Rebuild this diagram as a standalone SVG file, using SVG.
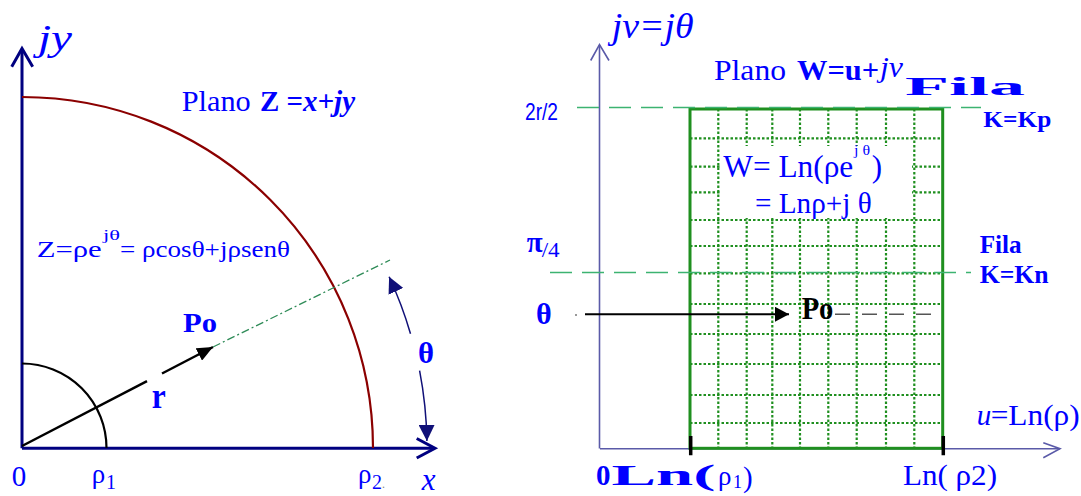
<svg xmlns="http://www.w3.org/2000/svg" width="1081" height="496" viewBox="0 0 1081 496">
<defs>
<style>
text { font-family: "Liberation Serif", "Times New Roman", serif; fill: #0000ff; }
.b { font-weight: bold; }
.i { font-style: italic; }
.sans { font-family: "Liberation Sans", Arial, sans-serif; }
.grid { stroke: #1f8f1f; stroke-width: 2.2; stroke-dasharray: 2.5 2; fill: none; }
.gdash { stroke: #3cb371; stroke-width: 1.5; stroke-dasharray: 22 10; fill: none; }
.navy { stroke: #000080; stroke-width: 3; fill: none; stroke-linejoin: miter; }
.slate { stroke: #5a5aa8; stroke-width: 1.6; fill: none; }
.thin { stroke: #101078; stroke-width: 1.5; fill: none; }
</style>
<marker id="ahBlack" viewBox="0 0 16 14" refX="16" refY="7" markerWidth="16" markerHeight="14" markerUnits="userSpaceOnUse" orient="auto"><path d="M0,0 L16,7 L0,14 z" fill="#000"/></marker>
<marker id="ahNavy" viewBox="0 0 16 16" refX="16" refY="8" markerWidth="16" markerHeight="16" markerUnits="userSpaceOnUse" orient="auto"><path d="M0,0 L16,8 L0,16 z" fill="#101078"/></marker>
<marker id="ahRight" viewBox="0 0 14 15" refX="14" refY="7.5" markerWidth="14" markerHeight="15" markerUnits="userSpaceOnUse" orient="auto"><path d="M0,0 L14,7.5 L0,15 z" fill="#000"/></marker>
</defs>
<rect x="0" y="0" width="1081" height="496" fill="#ffffff"/>

<!-- LEFT PANEL: Z plane -->
<g id="z-axes">
<path class="navy" d="M22,448.3 V49"/>
<path class="navy" d="M11.7,66.7 L22,48.5 L32.7,66.7"/>
<path class="navy" d="M22,448.3 H434"/>
<path class="navy" d="M416.7,438.5 L435,448.3 L416.7,458"/>
</g>
<g id="z-arcs">
<path d="M22,97 A351,351 0 0 1 373,448" fill="none" stroke="#8b0000" stroke-width="2.2"/>
<path d="M22,363.5 A84.5,84.5 0 0 1 106.5,448" fill="none" stroke="#000" stroke-width="2.2"/>
</g>
<g id="z-connectors">
<path d="M22,446 L147,381.2" stroke="#000" stroke-width="2.5" fill="none"/>
<path d="M162,373.5 L213,347" stroke="#000" stroke-width="2.5" fill="none" marker-end="url(#ahBlack)"/>
<path d="M213,347 L390,260" stroke="#2e8b57" stroke-width="1.3" stroke-dasharray="8 3 2 3" fill="none"/>
<path class="thin" d="M410.5,333.7 A405,405 0 0 0 389.1,276.8" marker-end="url(#ahNavy)"/>
<path class="thin" d="M419.6,370.7 A405,405 0 0 1 426.9,440.9" marker-end="url(#ahNavy)"/>
</g>
<g id="z-labels">
<text class="i" x="38" y="50" font-size="35" textLength="34" lengthAdjust="spacingAndGlyphs">jy</text>
<text x="181.7" y="110.7" font-size="30" textLength="69" lengthAdjust="spacingAndGlyphs">Plano</text>
<text class="b" x="260" y="110.7" font-size="30" textLength="95" lengthAdjust="spacingAndGlyphs">Z =<tspan class="i">x+jy</tspan></text>
<text x="36.7" y="256.7" font-size="24" textLength="65" lengthAdjust="spacingAndGlyphs">Z=ρe</text>
<text x="103" y="240" font-size="15" textLength="17" lengthAdjust="spacingAndGlyphs">jθ</text>
<text x="120" y="256.7" font-size="24" textLength="170" lengthAdjust="spacingAndGlyphs">= ρcosθ+jρsenθ</text>
<text class="b" x="183" y="331.7" font-size="27" textLength="34" lengthAdjust="spacingAndGlyphs">Po</text>
<text class="b" x="151.7" y="408.3" font-size="36" textLength="14" lengthAdjust="spacingAndGlyphs">r</text>
<text class="b" x="418" y="363" font-size="30" textLength="16" lengthAdjust="spacingAndGlyphs">θ</text>
<text x="11.7" y="486" font-size="29">0</text>
<text x="91.7" y="482.7" font-size="27">ρ</text>
<text x="106" y="489" font-size="20">1</text>
<text x="358" y="482.7" font-size="27">ρ</text>
<text x="372" y="489" font-size="20">2</text>
<text x="382" y="488" font-size="12" style="fill:#888">.</text>
<text class="i" x="421.7" y="490" font-size="31">x</text>
</g>

<!-- RIGHT PANEL: W plane -->
<g id="w-axes">
<path class="slate" d="M599.5,448.5 V45"/>
<path class="slate" d="M590.7,60.5 L599.5,44.5 L609,60.5"/>
<path class="slate" d="M600,448.7 H1060"/>
<path class="slate" d="M1043.3,442.7 L1060,448.7 L1043.3,457.7"/>
</g>
<g id="w-grid">
<path class="grid" d="M718.3,109 V448 M746.7,109 V448 M772.3,109 V448 M800,109 V448 M828.3,109 V448 M856.7,109 V448 M886,109 V448 M914.3,109 V448"/>
<path class="grid" d="M690,138.3 H942 M690,166.7 H942 M690,192.3 H942 M690,220 H942 M690,246 H942 M690,273.3 H942 M690,304 H942 M690,334 H942 M690,364 H942 M690,395 H942 M690,423 H942"/>
<rect x="720" y="146" width="192" height="72" fill="#ffffff"/>
<rect x="690" y="109" width="252.7" height="339.3" fill="none" stroke="#1f8f1f" stroke-width="3"/>
</g>
<g id="w-connectors">
<path class="gdash" d="M577,107.5 H981"/>
<path class="gdash" d="M550,272.5 H971"/>
<path d="M690.7,436 V455.3 M943.3,436 V455.3" stroke="#000" stroke-width="3.5" fill="none"/>
<circle cx="576" cy="315" r="1" fill="#777"/>
<path d="M585,314.3 H789" stroke="#000" stroke-width="2" fill="none" marker-end="url(#ahRight)"/>
<path d="M835,314.3 H943" stroke="#555" stroke-width="1.5" stroke-dasharray="15 12" fill="none"/>
</g>
<g id="w-labels">
<text class="i" x="611.7" y="38" font-size="35" textLength="82" lengthAdjust="spacingAndGlyphs">jv=jθ</text>
<text x="714" y="80" font-size="29" textLength="72" lengthAdjust="spacingAndGlyphs">Plano</text>
<text class="b" x="797" y="80" font-size="29" textLength="82" lengthAdjust="spacingAndGlyphs">W=u+</text>
<text class="i" x="880" y="77" font-size="29" textLength="23" lengthAdjust="spacingAndGlyphs">jv</text>
<text class="b" x="905" y="95" font-size="26" textLength="120" lengthAdjust="spacingAndGlyphs">Fila</text>
<text class="sans" x="525" y="120" font-size="24" textLength="33" lengthAdjust="spacingAndGlyphs">2r/2</text>
<text class="b" x="983.3" y="126.7" font-size="24" textLength="68" lengthAdjust="spacingAndGlyphs">K=Kp</text>
<text x="723.3" y="177.3" font-size="31" textLength="130" lengthAdjust="spacingAndGlyphs">W= Ln(ρe</text>
<text x="854" y="155" font-size="15" textLength="16" lengthAdjust="spacingAndGlyphs">j θ</text>
<text x="871.7" y="177.3" font-size="31">)</text>
<text x="755" y="212.7" font-size="30" textLength="116.7" lengthAdjust="spacingAndGlyphs">= Lnρ+j θ</text>
<text class="b" x="526.7" y="251.7" font-size="29">π</text>
<text x="541.7" y="256.7" font-size="20" textLength="18" lengthAdjust="spacingAndGlyphs">/4</text>
<text class="b" x="979.7" y="252.5" font-size="25" textLength="42" lengthAdjust="spacingAndGlyphs">Fila</text>
<text class="b" x="979.7" y="283.3" font-size="25" textLength="69" lengthAdjust="spacingAndGlyphs">K=Kn</text>
<text class="b" x="536" y="324" font-size="29" textLength="15.7" lengthAdjust="spacingAndGlyphs">θ</text>
<text class="b" x="801.7" y="319.3" font-size="31" textLength="31.7" lengthAdjust="spacingAndGlyphs" style="fill:#000">Po</text>
<text class="i" x="976.7" y="425.3" font-size="29">u</text>
<text x="990.7" y="425.3" font-size="29" textLength="89" lengthAdjust="spacingAndGlyphs">=Ln(ρ)</text>
<text class="b" x="596" y="485.3" font-size="29">0</text>
<text class="b" x="611.5" y="485.3" font-size="29" textLength="104" lengthAdjust="spacingAndGlyphs">Ln(</text>
<text x="718" y="485.3" font-size="27">ρ</text>
<text x="733" y="487.7" font-size="18">1</text>
<text x="743" y="487" font-size="29">)</text>
<text x="903" y="485.3" font-size="29" textLength="94" lengthAdjust="spacingAndGlyphs">Ln( ρ2)</text>
</g>
</svg>
